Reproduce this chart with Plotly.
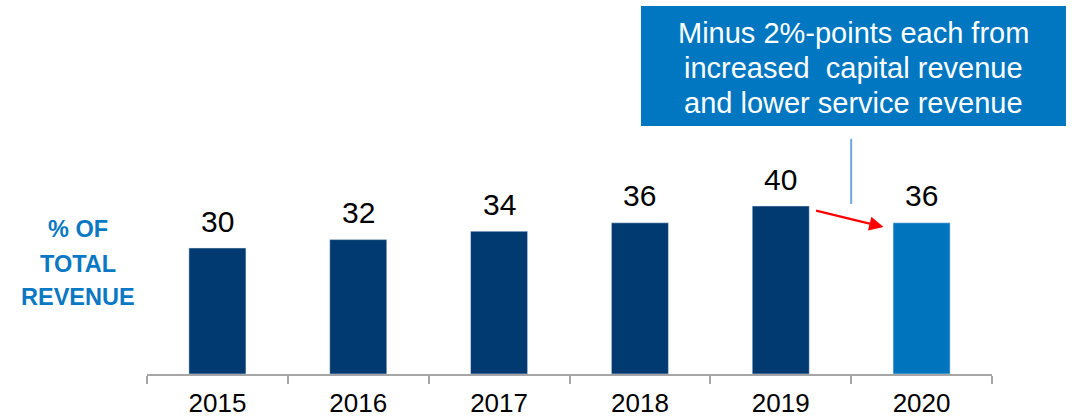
import plotly.graph_objects as go

years = ["2015", "2016", "2017", "2018", "2019", "2020"]
values = [30, 32, 34, 36, 40, 36]
bar_colors = ["#003A70", "#003A70", "#003A70", "#003A70", "#003A70", "#0075BE"]
ylabel_lines = ["% OF", "TOTAL", "REVENUE"]
callout_lines = ["Minus 2%-points each from", "increased  capital revenue", "and lower service revenue"]

W, H = 1076, 419
L, R, T, B = 147, 84, 10, 45
plot_w = W - L - R
plot_h = H - T - B
PX_PER_UNIT = 4.2
y_max = plot_h / PX_PER_UNIT

FONT = "Arial, Liberation Sans, sans-serif"


def px(xp):
    return (xp - L) / plot_w


def py(yp):
    return (H - B - yp) / plot_h


fig = go.Figure()
fig.add_trace(go.Bar(
    x=years, y=values, marker_color=bar_colors, width=0.405,
    hoverinfo="skip", showlegend=False,
))

# value labels (category axes use serial index for annotations)
for i, v in enumerate(values):
    fig.add_annotation(x=i, y=v, xref="x", yref="y", text=str(v), showarrow=False,
                       yanchor="middle", yshift=27,
                       font=dict(family=FONT, size=30, color="#000000"))

# y-axis label
for line, ypix in zip(ylabel_lines, [229, 264, 297]):
    fig.add_annotation(xref="paper", yref="paper", x=px(78), y=py(ypix),
                       text="<b>%s</b>" % line, showarrow=False,
                       xanchor="center", yanchor="middle",
                       font=dict(family=FONT, size=23.5, color="#0A78C2"))

# callout box
fig.add_shape(type="rect", xref="paper", yref="paper",
              x0=px(641), x1=px(1066), y0=py(126), y1=py(6),
              fillcolor="#0077C0", line=dict(width=0), layer="above")
for line, ypix in zip(callout_lines, [33, 68, 103]):
    fig.add_annotation(xref="paper", yref="paper", x=px(853.5), y=py(ypix),
                       text=line, showarrow=False, xanchor="center", yanchor="middle",
                       font=dict(family=FONT, size=29, color="#FFFFFF"))

# connector line from callout
fig.add_shape(type="line", xref="x", yref="y", x0=4.5, x1=4.5,
              y0=values[4] + 0.5, y1=values[4] + 16,
              line=dict(color="#6FA8DC", width=2))

# red arrow from 2019 to 2020
fig.add_annotation(x=4.73, y=values[5] - 1, ax=4.24, ay=values[4] - 1,
                   xref="x", yref="y", axref="x", ayref="y",
                   showarrow=True, arrowhead=2, arrowsize=1.3, arrowwidth=2.2,
                   arrowcolor="#FF0000", text="")

fig.update_layout(
    width=W, height=H,
    margin=dict(l=L, r=R, t=T, b=B, autoexpand=False),
    paper_bgcolor="white", plot_bgcolor="white",
    bargap=0.6,
    font=dict(family=FONT),
    xaxis=dict(
        type="category", range=[-0.5, 5.5], showgrid=False, automargin=False,
        showline=True, linecolor="#A6A6A6", linewidth=1.5,
        ticks="outside", tickson="boundaries", ticklen=8, tickcolor="#A6A6A6",
        tickwidth=1.5, ticklabelstandoff=5,
        tickfont=dict(family=FONT, size=26, color="#000000"),
        fixedrange=True,
    ),
    yaxis=dict(range=[0, y_max], visible=False, fixedrange=True, automargin=False),
)

fig.write_html("out.html", config={"displayModeBar": False})
